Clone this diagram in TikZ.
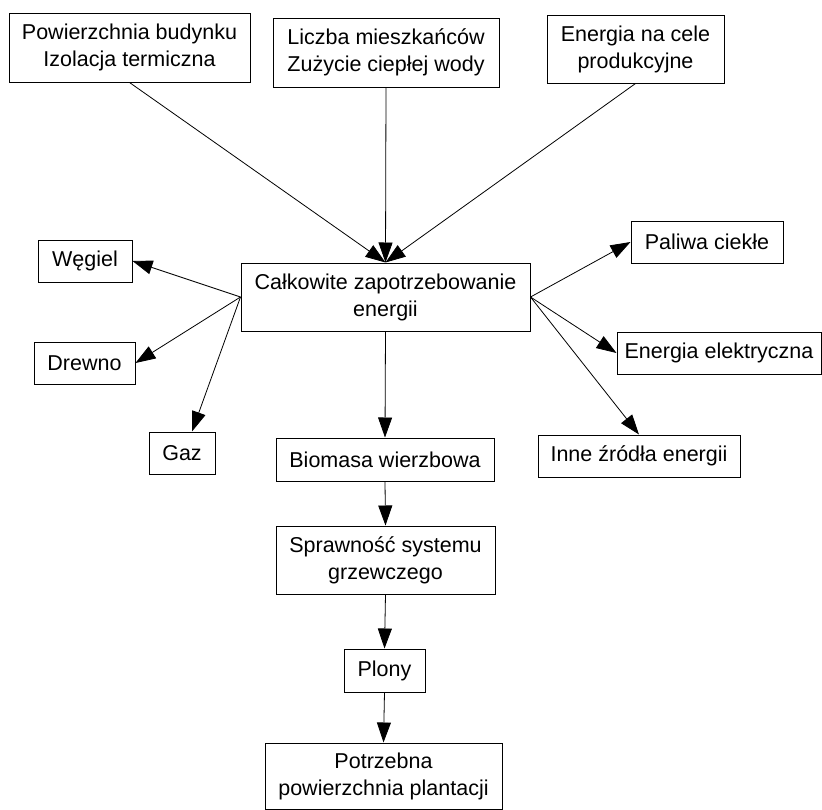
\documentclass[tikz,border=0pt]{standalone}
\usepackage{fontspec}
\setmainfont{Liberation Sans}
\usetikzlibrary{arrows.meta,positioning}

\begin{document}
\begin{tikzpicture}[x=1pt, y=-1pt, >={Triangle[length=20pt,width=14pt]},
  every node/.style={font=\fontsize{21.5}{27}\selectfont},
  box/.style={draw, line width=1pt, align=center, inner sep=0pt},
  link/.style={->, line width=0.8pt}]
\useasboundingbox (0,0) rectangle (822,809);
% inputs
\node[box, minimum width=241pt, minimum height=69pt] (pow) at (129.5,47.5) {Powierzchnia budynku\\Izolacja termiczna};
\node[box, minimum width=226pt, minimum height=69pt] (licz) at (386,52.5) {Liczba mieszkańców\\Zużycie ciepłej wody};
\node[box, minimum width=177pt, minimum height=68pt] (prod) at (635.5,49) {Energia na cele\\produkcyjne};
\node[box, minimum width=289pt, minimum height=68pt] (total) at (385.5,297) {Całkowite zapotrzebowanie\\energii};
% sources
\node[box, minimum width=94pt, minimum height=42pt] (wegiel) at (85,261) {Węgiel};
\node[box, minimum width=101pt, minimum height=42pt] (drewno) at (84.5,363) {Drewno};
\node[box, minimum width=66pt, minimum height=42pt] (gaz) at (182,453) {Gaz};
\node[box, minimum width=152pt, minimum height=42pt] (paliwa) at (707,242) {Paliwa ciekłe};
\node[box, minimum width=204pt, minimum height=42pt] (elektr) at (719,353) {Energia elektryczna};
\node[box, minimum width=202pt, minimum height=42pt] (inne) at (639,456) {Inne źródła energii};
% chain
\node[box, minimum width=218pt, minimum height=43pt] (biomasa) at (385,459.5) {Biomasa wierzbowa};
\node[box, minimum width=219pt, minimum height=68pt] (spraw) at (385.5,560) {Sprawność systemu\\grzewczego};
\node[box, minimum width=81pt, minimum height=43pt] (plony) at (384.5,670.5) {Plony};
\node[box, minimum width=237pt, minimum height=66pt] (potrz) at (383.5,776) {Potrzebna\\powierzchnia plantacji};
% connectors
\draw[link] (pow.south) -- (total.north);
\draw[link] (licz.south) -- (total.north);
\draw[link] (prod.south) -- (total.north);
\draw[link] (total.west) -- (wegiel.east);
\draw[link] (total.west) -- (drewno.east);
\draw[link] (total.west) -- ([xshift=10pt]gaz.north);
\draw[link] (total.east) -- (paliwa.west);
\draw[link] (total.east) -- (elektr.west);
\draw[link] (total.east) -- (inne.north);
\draw[link] (total.south) -- (biomasa.north);
\draw[link] (biomasa.south) -- (spraw.north);
\draw[link] (spraw.south) -- (plony.north);
\draw[link] (plony.south) -- (potrz.north);
\end{tikzpicture}
\end{document}
